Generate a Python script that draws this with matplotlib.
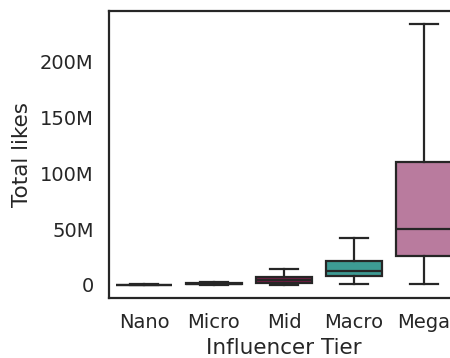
import matplotlib
matplotlib.use('Agg')
import matplotlib.pyplot as plt
from matplotlib.ticker import FuncFormatter

# Box summaries of total likes per tier (millions)
tiers = ['Nano', 'Micro', 'Mid', 'Macro', 'Mega']
whis_lo = [0.0, 0.1, 0.2, 1.0, 0.8]
q1 = [0.1, 0.5, 1.5, 8.0, 26.0]
median = [0.2, 1.2, 4.0, 12.5, 50.0]
q3 = [0.4, 2.0, 7.5, 21.5, 110.0]
whis_hi = [0.9, 3.0, 14.0, 42.0, 234.0]
colors = ['#3b2a5c', '#5a2160', '#7a1a45', '#3d9b94', '#b97b9e']

INK = '#262626'
plt.rcParams.update({
    'font.family': 'DejaVu Sans',
    'text.color': INK,
    'axes.labelcolor': INK,
    'xtick.color': INK,
    'ytick.color': INK,
})

stats = []
for i, name in enumerate(tiers):
    stats.append({
        'label': name,
        'whislo': whis_lo[i] * 1e6,
        'q1': q1[i] * 1e6,
        'med': median[i] * 1e6,
        'q3': q3[i] * 1e6,
        'whishi': whis_hi[i] * 1e6,
        'fliers': [],
    })

fig = plt.figure(figsize=(4.5, 3.58), dpi=100)
ax = fig.add_axes([0.2422, 0.1676, 0.7778, 0.8017])

line = dict(color=INK, linewidth=1.6)
bp = ax.bxp(stats, positions=range(len(tiers)), widths=0.8, patch_artist=True,
            showfliers=False, boxprops=dict(edgecolor=INK, linewidth=1.6),
            whiskerprops=line, capprops=line, medianprops=line)
for patch, c in zip(bp['boxes'], colors):
    patch.set_facecolor(c)
# caps at half the box width
for cap in bp['caps']:
    x0, x1 = cap.get_xdata()
    mid = (x0 + x1) / 2
    cap.set_xdata([mid - 0.2, mid + 0.2])

ax.set_xlim(-0.5, len(tiers) - 0.5)
lo, hi = min(whis_lo) * 1e6, max(whis_hi) * 1e6
pad = (hi - lo) * 0.05
ax.set_ylim(lo - pad, hi + pad)

ax.yaxis.set_major_formatter(FuncFormatter(lambda v, p: '0' if v == 0 else f'{v / 1e6:.0f}M'))
ax.set_yticks([0, 50e6, 100e6, 150e6, 200e6])
ax.set_xticks(range(len(tiers)))
ax.set_xticklabels(tiers)
ax.tick_params(length=0, pad=11, labelsize=14)
ax.set_xlabel('Influencer Tier', fontsize=15.5, labelpad=4)
ax.set_ylabel('Total likes', fontsize=15.5, labelpad=6)
for s in ax.spines.values():
    s.set_color(INK)
    s.set_linewidth(1.6)

fig.savefig('out.png', dpi=100)
